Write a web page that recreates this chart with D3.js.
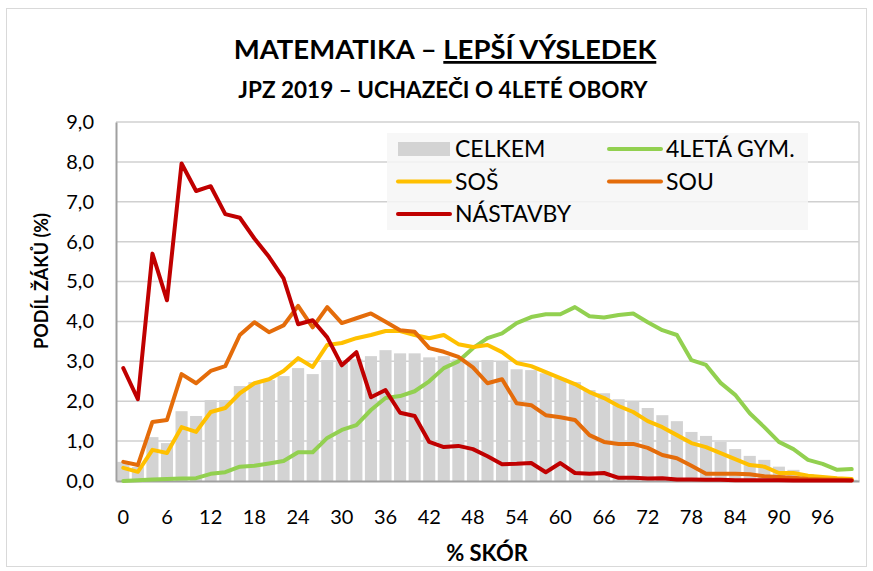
<!DOCTYPE html>
<html>
<head>
<meta charset="utf-8">
<script src="https://cdn.jsdelivr.net/npm/d3@7"></script>
<style>
  body { margin: 0; background: #fff; }
  text { font-family: Lato, "Open Sans", sans-serif; fill: #000; }
</style>
</head>
<body>
<svg id="chart" width="873" height="571"></svg>
<script>
/* Data */

const scores = d3.range(0, 101, 2);
const xTickLabels = d3.range(0, 97, 6);
const yTicks = d3.range(0, 9.01, 1);

const celkem = [0.48, 0.35, 1.1, 0.95, 1.75, 1.63, 2.03, 2.03, 2.38, 2.48, 2.53, 2.63, 2.83, 2.68, 3.03, 3.03, 3.05, 3.13, 3.28, 3.2, 3.2, 3.1, 3.13, 3.05, 2.99, 3.03, 2.99, 2.8, 2.78, 2.7, 2.58, 2.48, 2.28, 2.2, 2.05, 1.98, 1.83, 1.65, 1.5, 1.23, 1.13, 0.98, 0.8, 0.63, 0.53, 0.36, 0.28, 0.17, 0.1, 0.06, 0.03];
const gym4 = [0.0, 0.02, 0.04, 0.05, 0.06, 0.07, 0.18, 0.22, 0.36, 0.38, 0.44, 0.5, 0.72, 0.72, 1.08, 1.28, 1.4, 1.78, 2.08, 2.13, 2.25, 2.5, 2.83, 3.0, 3.33, 3.58, 3.7, 3.96, 4.11, 4.18, 4.18, 4.36, 4.13, 4.1, 4.16, 4.2, 3.98, 3.78, 3.66, 3.03, 2.91, 2.46, 2.16, 1.7, 1.35, 0.98, 0.8, 0.53, 0.43, 0.28, 0.3];
const sos = [0.33, 0.23, 0.78, 0.7, 1.35, 1.23, 1.73, 1.83, 2.2, 2.45, 2.55, 2.76, 3.08, 2.86, 3.41, 3.46, 3.58, 3.66, 3.76, 3.76, 3.66, 3.58, 3.66, 3.43, 3.36, 3.41, 3.23, 2.96, 2.88, 2.73, 2.58, 2.43, 2.23, 2.08, 1.88, 1.73, 1.5, 1.35, 1.15, 0.95, 0.85, 0.7, 0.55, 0.4, 0.36, 0.2, 0.2, 0.13, 0.1, 0.07, 0.05];
const sou = [0.48, 0.4, 1.48, 1.53, 2.68, 2.45, 2.76, 2.88, 3.66, 3.98, 3.73, 3.9, 4.39, 3.85, 4.36, 3.96, 4.08, 4.2, 3.99, 3.78, 3.74, 3.33, 3.24, 3.11, 2.85, 2.45, 2.55, 1.95, 1.9, 1.65, 1.6, 1.53, 1.15, 0.98, 0.93, 0.93, 0.83, 0.65, 0.57, 0.38, 0.18, 0.18, 0.18, 0.17, 0.12, 0.1, 0.08, 0.05, 0.04, 0.03, 0.02];
const nastavby = [2.83, 2.05, 5.7, 4.53, 7.96, 7.27, 7.39, 6.69, 6.6, 6.08, 5.62, 5.08, 3.93, 4.03, 3.6, 2.9, 3.23, 2.1, 2.28, 1.71, 1.63, 0.98, 0.85, 0.88, 0.8, 0.62, 0.42, 0.43, 0.45, 0.22, 0.45, 0.2, 0.18, 0.2, 0.08, 0.08, 0.06, 0.07, 0.04, 0.04, 0.03, 0.03, 0.02, 0.02, 0.02, 0.02, 0.01, 0.01, 0.01, 0.01, 0.01];

const lineSeries = [
    { name: '4LETÁ GYM.', values: gym4, color: '#92D050' },
    { name: 'SOŠ', values: sos, color: '#FFC000' },
    { name: 'SOU', values: sou, color: '#E46C0A' },
    { name: 'NÁSTAVBY', values: nastavby, color: '#C00000' }
];

/* Layout */

const svg = d3.select('#chart');
const plot = { left: 116, right: 859, top: 122, bottom: 481 };

const x = d3.scaleBand()
    .domain(scores)
    .range([plot.left, plot.right])
    .paddingInner(0.17)
    .paddingOuter(0.085);

const y = d3.scaleLinear()
    .domain([0, 9])
    .range([plot.bottom, plot.top]);

const cx = d => x(d) + x.bandwidth() / 2;

// outer frame
svg.append('rect')
    .attr('x', 6.5).attr('y', 8.5)
    .attr('width', 860).attr('height', 558)
    .attr('fill', 'none')
    .attr('stroke', '#d9d9d9');

/* Titles */

const title = svg.append('text')
    .attr('x', 445).attr('y', 59)
    .attr('text-anchor', 'middle')
    .style('font-size', '27.5px')
    .style('font-weight', 'bold');
title.append('tspan').text('MATEMATIKA – ');
title.append('tspan').text('LEPŠÍ VÝSLEDEK').style('text-decoration', 'underline');

svg.append('text')
    .attr('x', 443).attr('y', 98)
    .attr('text-anchor', 'middle')
    .style('font-size', '22.5px')
    .style('font-weight', 'bold')
    .text('JPZ 2019 – UCHAZEČI O 4LETÉ OBORY');

/* Grid */

svg.append('g')
    .selectAll('line')
    .data(yTicks.slice(1))
    .join('line')
    .attr('x1', plot.left).attr('x2', plot.right)
    .attr('y1', d => y(d)).attr('y2', d => y(d))
    .attr('stroke', '#d0d0d0')
    .attr('stroke-width', 1.5);

svg.append('line')
    .attr('x1', plot.right).attr('x2', plot.right)
    .attr('y1', plot.top).attr('y2', plot.bottom)
    .attr('stroke', '#d0d0d0')
    .attr('stroke-width', 1.5);

/* Bars */

svg.append('g')
    .selectAll('rect')
    .data(celkem)
    .join('rect')
    .attr('x', (d, i) => x(scores[i]))
    .attr('width', x.bandwidth())
    .attr('y', d => y(d))
    .attr('height', d => y(0) - y(d))
    .attr('fill', '#d3d3d3');

/* Axes */

const yAxis = d3.axisLeft(y)
    .tickValues(yTicks)
    .tickSize(0)
    .tickPadding(22)
    .tickFormat(d => d3.format('.1f')(d).replace('.', ','));

svg.append('g')
    .attr('transform', `translate(${plot.left},0)`)
    .call(yAxis)
    .call(g => g.select('.domain').attr('stroke', '#a0a0a0').attr('stroke-width', 2))
    .call(g => g.selectAll('text').style('font-size', '20px').attr('fill', '#000'));

const xAxis = d3.axisBottom(x)
    .tickValues(xTickLabels)
    .tickSize(0)
    .tickPadding(29);

svg.append('g')
    .attr('transform', `translate(0,${plot.bottom})`)
    .call(xAxis)
    .call(g => g.select('.domain').attr('stroke', '#a0a0a0').attr('stroke-width', 2))
    .call(g => g.selectAll('text').style('font-size', '20px').attr('fill', '#000'));

svg.append('text')
    .attr('x', 487).attr('y', 561)
    .attr('text-anchor', 'middle')
    .style('font-size', '22px')
    .style('font-weight', 'bold')
    .text('% SKÓR');

svg.append('text')
    .attr('transform', 'translate(48,281) rotate(-90)')
    .attr('text-anchor', 'middle')
    .style('font-size', '18px')
    .style('font-weight', 'bold')
    .text('PODÍL ŽÁKŮ (%)');

/* Lines */

const line = d3.line()
    .x((d, i) => cx(scores[i]))
    .y(d => y(d));

svg.append('g')
    .selectAll('path')
    .data(lineSeries)
    .join('path')
    .attr('d', d => line(d.values))
    .attr('fill', 'none')
    .attr('stroke', d => d.color)
    .attr('stroke-width', 4)
    .attr('stroke-linejoin', 'round')
    .attr('stroke-linecap', 'round');

/* Legend */

const legend = svg.append('g');
legend.append('rect')
    .attr('x', 387).attr('y', 133)
    .attr('width', 421).attr('height', 97)
    .attr('fill', '#f6f6f6')
    .attr('fill-opacity', 0.85);

const legendItems = [
    { name: 'CELKEM', color: '#d3d3d3', bar: true, col: 0, row: 0 },
    { ...lineSeries[0], col: 1, row: 0 },
    { ...lineSeries[1], col: 0, row: 1 },
    { ...lineSeries[2], col: 1, row: 1 },
    { ...lineSeries[3], col: 0, row: 2 }
];

const item = legend.selectAll('g')
    .data(legendItems)
    .join('g')
    .attr('transform', d => `translate(${d.col ? 607 : 396},${149 + d.row * 32.5})`);

item.filter(d => d.bar).append('rect')
    .attr('x', 2).attr('y', -7)
    .attr('width', 52).attr('height', 14)
    .attr('fill', d => d.color);

item.filter(d => !d.bar).append('line')
    .attr('x1', 2).attr('x2', 54)
    .attr('stroke', d => d.color)
    .attr('stroke-width', 4)
    .attr('stroke-linecap', 'round');

item.append('text')
    .attr('x', 59).attr('y', 8)
    .style('font-size', '23px')
    .text(d => d.name);
</script>
</body>
</html>
